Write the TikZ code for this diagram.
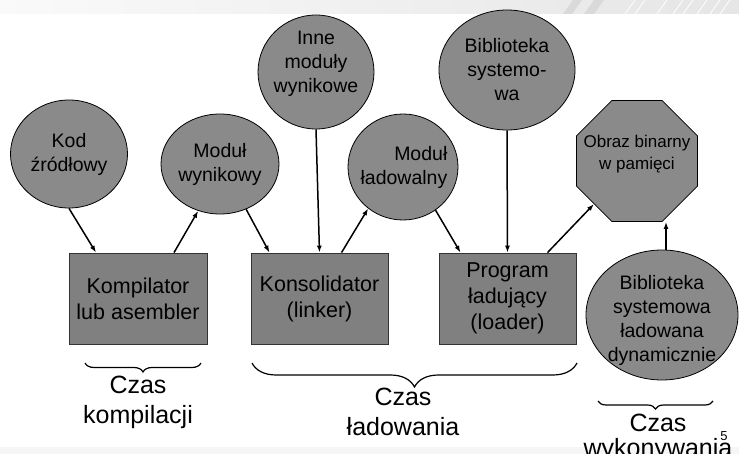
\documentclass[tikz,border=0pt]{standalone}
\usepackage{fontspec}
\setmainfont{Liberation Sans}
\usetikzlibrary{shapes.geometric,decorations.pathreplacing,arrows.meta}
\definecolor{efill}{RGB}{138,138,138}
\definecolor{rfill}{RGB}{128,128,128}
\begin{document}
\begin{tikzpicture}[x=1pt,y=-1pt,
  blob/.style={ellipse,draw=black,line width=0.8pt,fill=efill,inner sep=0pt,align=center,font=\fontsize{19.5}{24}\selectfont},
  etext/.style={align=center,inner sep=0pt,font=\fontsize{19.5}{24}\selectfont},
  box/.style={rectangle,draw=black!80,line width=0.8pt,fill=rfill,inner sep=0pt,align=center,font=\fontsize{21.5}{26}\selectfont},
  arr/.style={line width=1.5pt,-{Latex[length=7pt,width=5pt]}},
  brc/.style={decorate,line width=1.2pt,decoration={brace,mirror,amplitude=#1}},
  tlabel/.style={align=center,inner sep=0pt,font=\fontsize{25}{30}\selectfont}]
\useasboundingbox (0,0) rectangle (739,454);
% header band
\shade[left color=gray!4,right color=gray!20] (0,0) rectangle (739,14);
\fill[gray!30] (563,14) -- (573,0) -- (582,0) -- (572,14) -- cycle;
\fill[gray!30] (584,14) -- (594,0) -- (604,0) -- (594,14) -- cycle;
\foreach \xx in {625,635,657,673,683,697,710,720}
  \draw[white,line width=0.8pt] (\xx,14) -- (\xx+10,0);
% bottom band
\fill[gray!7] (0,447) rectangle (739,454);

% ellipses
\node[blob,minimum width=117pt,minimum height=108pt] (kod) at (69,154) {Kod\\źródłowy};
\node[blob,minimum width=107pt,minimum height=100pt] (modwyn) at (220,164) {Moduł\\wynikowy};
\node[blob,minimum width=116pt,minimum height=114pt] (inne) at (316,72) {};
\node[etext] (inneT) at (316,64) {Inne\\moduły\\wynikowe};
\node[blob,minimum width=136pt,minimum height=120pt] (bibsys) at (507,70) {Biblioteka\\systemo-\\wa};
\node[blob,minimum width=110pt,minimum height=106pt] (modlad) at (403,167) {};
\node[etext,align=right] (modladT) at (404,167) {Moduł\\ładowalny};
\node[regular polygon,regular polygon sides=8,minimum size=131pt,draw=black,line width=0.8pt,fill=efill,inner sep=0pt] (obraz) at (637,161) {};
\node[align=center,inner sep=0pt,font=\fontsize{17}{22}\selectfont] (obrazT) at (637,154) {Obraz binarny\\w pamięci};
\node[blob,minimum width=152pt,minimum height=130pt] (bibdyn) at (662,315) {};
\node[etext] (bibdynT) at (662,320) {Biblioteka\\systemowa\\ładowana\\dynamicznie};

% boxes
\node[box,minimum width=138pt,minimum height=91pt] (komp) at (138,298.5) {Kompilator\\lub asembler};
\node[box,minimum width=137pt,minimum height=91pt] (kons) at (319.5,298.5) {Konsolidator\\(linker)};
\node[box,minimum width=137pt,minimum height=91pt] (prog) at (507.5,298.5) {Program\\ładujący\\(loader)};

% arrows
\draw[arr] (kod.south) -- ([xshift=-42pt]komp.north);
\draw[arr] ([xshift=36pt]komp.north) -- (modwyn.245);
\draw[arr] (modwyn.300) -- ([xshift=-50pt]kons.north);
\draw[arr] (inne.south) -- (kons.north);
\draw[arr] ([xshift=22pt]kons.north) -- (modlad.230);
\draw[arr] (modlad.307) -- ([xshift=-47pt]prog.north);
\draw[arr] (bibsys.south) -- (prog.north);
\draw[arr] ([xshift=40pt]prog.north) -- (obraz.225);
\draw[arr] ([xshift=4pt]bibdyn.north) -- ([xshift=4pt]bibdyn.north |- obraz.south);

% braces
\draw[brc=9pt] (85,363) -- (201,363);
\draw[brc=24pt] (252,363) -- (577,363);
\draw[brc=8pt] (598,401) -- (713,401);

% labels
\node[tlabel] (ck) at (138,402) {Czas\\kompilacji};
\node[tlabel] (cl) at (403,412) {Czas\\ładowania};
\node[tlabel,font=\fontsize{25}{25}\selectfont] (cw) at (658,438) {Czas\\wykonywania};
\node[inner sep=0pt,font=\fontsize{13}{13}\selectfont] (pg) at (724,436) {5};
\end{tikzpicture}
\end{document}
